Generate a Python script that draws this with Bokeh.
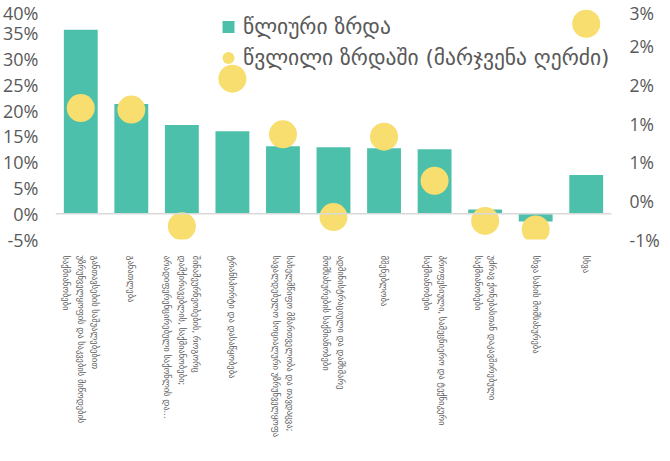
import math
from bokeh.plotting import figure
from bokeh.models import (Range1d, LinearAxis, CategoricalAxis, FixedTicker, Span, Legend,
                          LegendItem, ColumnDataSource, FactorRange)
from bokeh.embed import file_html
from bokeh.resources import INLINE

# ---------------- data ----------------
categories = [
    "განთავსების საშუალებებით\nუზრუნველყოფის და საკვების მიწოდების\nსაქმიანობები",
    "განათლება",
    "შინამეურნეობების, როგორც\nდამქირავებლის, საქმიანობები;\nარადიფერენცირებული საქონლის და...",
    "ტრანსპორტი და დასაწყობება",
    "სახელმწიფო მმართველობა და თავდაცვა;\nსავალდებულო სოციალური უზრუნველყოფა",
    "ადმინისტრაციული და დამხმარე\nმომსახურების საქმიანობები",
    "მშენებლობა",
    "პროფესიული, სამეცნიერო და ტექნიკური\nსაქმიანობები",
    "უძრავ ქონებასთან დაკავშირებული\nსაქმიანობები",
    "სხვა სახის მომსახურება",
    "სხვა",
]
annual_growth = [35.7, 21.3, 17.2, 16.0, 13.1, 12.9, 12.7, 12.5, 0.8, -1.5, 7.5]   # left axis, %
contribution = [1.20, 1.18, -0.33, 1.58, 0.86, -0.21, 0.83, 0.26, -0.26, -0.37, 2.29]  # right axis, %
series_names = ["წლიური ზრდა", "წვლილი ზრდაში (მარჯვენა ღერძი)"]
left_ticks = [-5, 0, 5, 10, 15, 20, 25, 30, 35, 40]
left_tick_labels = ["-5%", "0%", "5%", "10%", "15%", "20%", "25%", "30%", "35%", "40%"]
right_ticks = [-0.5, 0, 0.5, 1.0, 1.5, 2.0, 2.5]
right_tick_labels = ["-1%", "0%", "1%", "1%", "2%", "2%", "3%"]

# ---------------- style ----------------
TEAL = "#4DC0AC"
YELLOW = "#F8DE6E"
GREY = "#595959"
NUM_FONT = "Open Sans"
GEO_FONT = "DejaVu Sans"

p = figure(frame_width=556, frame_height=232, x_range=FactorRange(*categories),
           y_range=Range1d(left_ticks[0], left_ticks[-1]),
           x_axis_location=None, output_backend="svg", toolbar_location=None,
           min_border_left=48, min_border_right=44, min_border_top=7, min_border_bottom=212)
p.extra_y_ranges = {"right": Range1d(right_ticks[0], right_ticks[-1])}
p.outline_line_color = None
p.xgrid.visible = False
p.ygrid.visible = False
p.background_fill_color = "white"

src = ColumnDataSource(dict(cat=categories, growth=annual_growth, contrib=contribution))

# left axis
ya = p.yaxis[0]
ya.ticker = FixedTicker(ticks=left_ticks)
ya.major_label_overrides = {t: l for t, l in zip(left_ticks, left_tick_labels)}
ya.axis_line_color = None
ya.major_tick_line_color = None
ya.minor_tick_line_color = None
ya.major_label_text_font = NUM_FONT
ya.major_label_text_font_size = "18px"
ya.major_label_text_color = GREY
ya.major_label_standoff = 11

# right axis
ra = LinearAxis(y_range_name="right", ticker=FixedTicker(ticks=right_ticks))
ra.major_label_overrides = {t: l for t, l in zip(right_ticks, right_tick_labels)}
ra.axis_line_color = None
ra.major_tick_line_color = None
ra.minor_tick_line_color = None
ra.major_label_text_font = NUM_FONT
ra.major_label_text_font_size = "17.5px"
ra.major_label_text_color = GREY
ra.major_label_standoff = 12
p.add_layout(ra, "right")

# category axis (labels only)
xa = CategoricalAxis()
xa.axis_line_color = None
xa.major_tick_line_color = None
xa.minor_tick_line_color = None
xa.major_label_orientation = "vertical"
xa.major_label_standoff = 10
xa.major_label_text_font = GEO_FONT
xa.major_label_text_font_size = "8.5px"
xa.major_label_text_color = GREY
xa.major_label_text_line_height = 1.45
p.add_layout(xa, "below")

# baseline
p.add_layout(Span(location=0, dimension="width", line_color="#D9D9D9", line_width=1.5))

bars = p.vbar(x="cat", top="growth", bottom=0, width=0.67, source=src,
              fill_color=TEAL, line_color=None)
dots = p.scatter(x="cat", y="contrib", source=src, y_range_name="right",
                 size=28, marker="circle", fill_color=YELLOW, line_color=None)

# legend proxies
sq = p.scatter(x=[categories[0]], y=[float("nan")], marker="square", size=13.5,
               fill_color=TEAL, line_color=None)
ci = p.scatter(x=[categories[0]], y=[float("nan")], marker="circle", size=13.5,
               fill_color=YELLOW, line_color=None)
legend = Legend(items=[LegendItem(label=series_names[0], renderers=[sq]),
                       LegendItem(label=series_names[1], renderers=[ci])],
                location=(158, 166), orientation="vertical",
                padding=0, spacing=0, margin=0,
                border_line_alpha=0, background_fill_alpha=0,
                glyph_width=30, glyph_height=31, label_height=31, label_standoff=-3,
                label_text_font=GEO_FONT, label_text_font_size="21.5px",
                label_text_color=GREY)
p.add_layout(legend)

open("out.html", "w").write(file_html(p, INLINE))
